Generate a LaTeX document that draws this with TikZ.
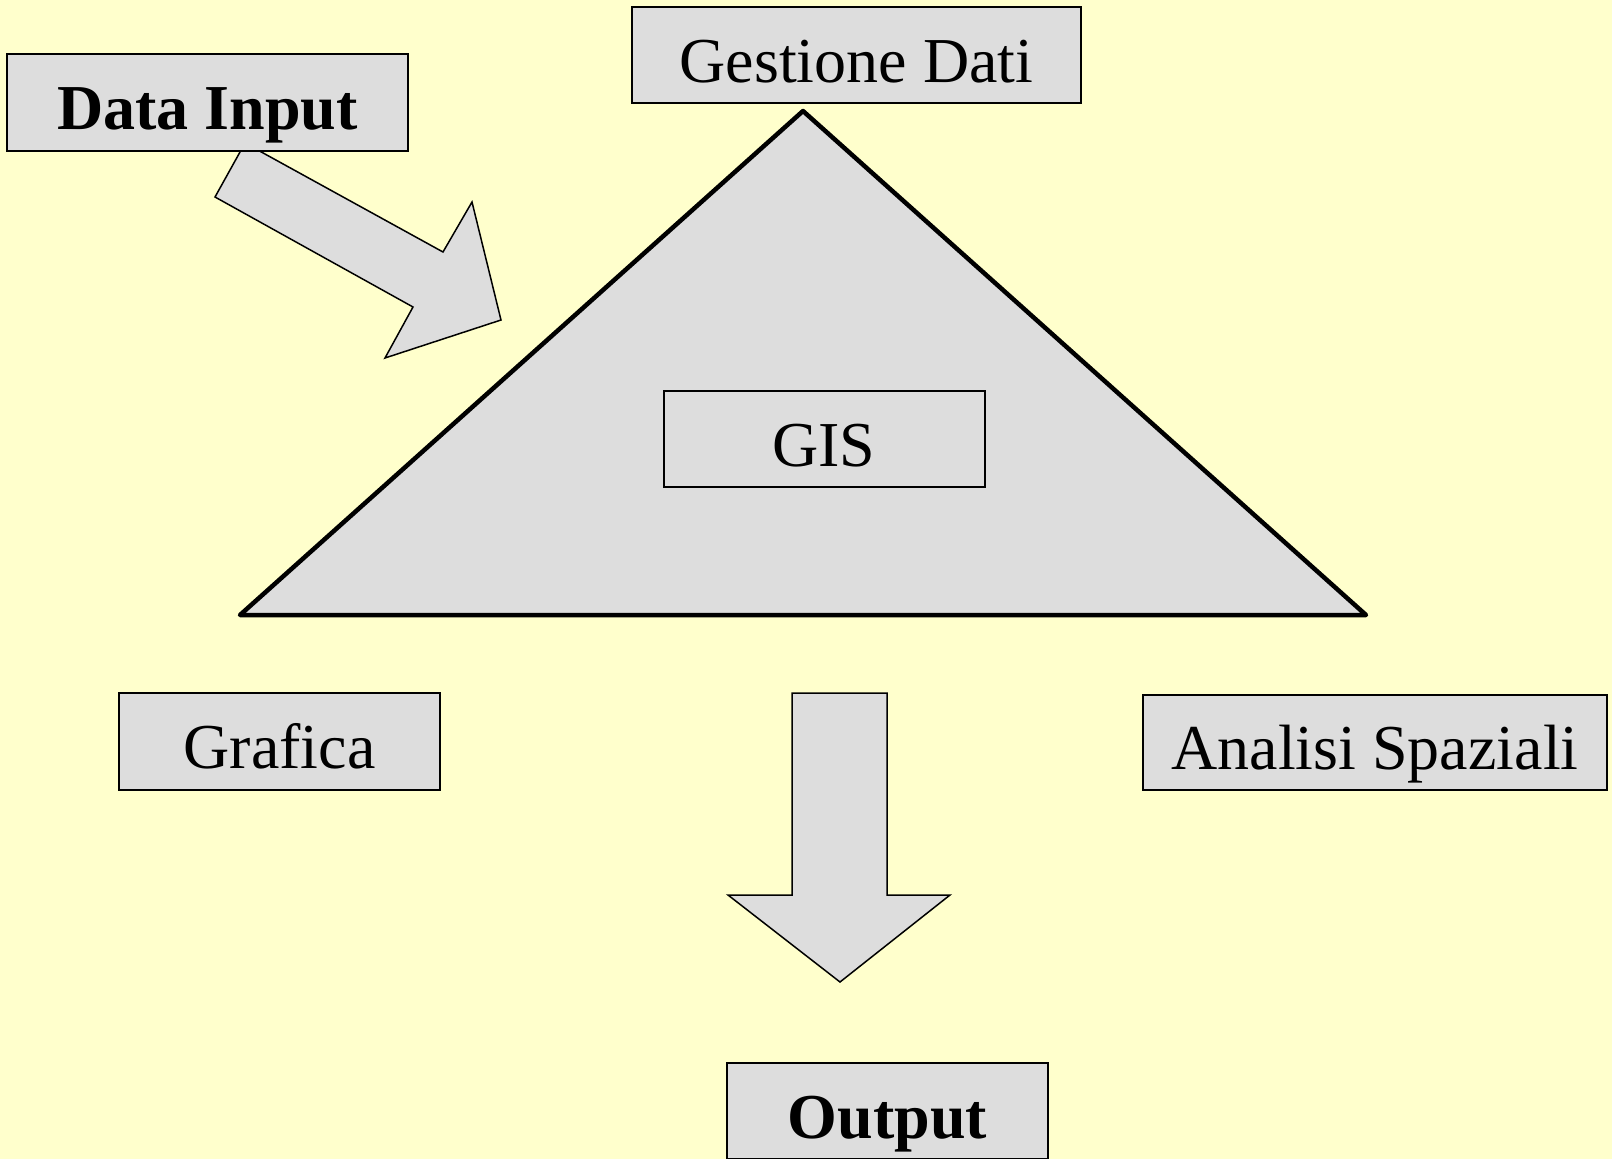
\documentclass[tikz,border=0pt]{standalone}
\usepackage{fontspec}
\setmainfont{Liberation Serif}
\definecolor{paper}{HTML}{FFFFCC}
\definecolor{panel}{HTML}{DDDDDD}
\begin{document}
\begin{tikzpicture}[x=1pt,y=-1pt,
  labelbox/.style={draw=black, line width=2pt, fill=panel, inner sep=0pt,
    text height=54pt, text depth=0pt,
    font=\fontsize{64}{77}\selectfont},
  blockarrow/.style={draw=black, line width=1.5pt, fill=panel, line join=miter},
  pyramid/.style={draw=black, line width=4.5pt, fill=panel, line join=round}]
  % page and background
  \useasboundingbox (0,0) rectangle (1612,1159);
  \fill[paper] (0,0) rectangle (1612,1159);

  % central triangle
  \coordinate (apex) at (803,111);
  \coordinate (baseL) at (240,615);
  \coordinate (baseR) at (1366,615);
  \draw[pyramid] (apex) -- (baseR) -- (baseL) -- cycle;

  % diagonal input arrow (tail sits under the Data Input box)
  \draw[blockarrow] (245,143) -- (443,252) -- (472,202) -- (501,320)
    -- (385,358) -- (413,307) -- (215,197) -- cycle;

  % downward output arrow
  \draw[blockarrow] (792,693) -- (887,693) -- (887,895) -- (950,895)
    -- (840,982) -- (728,895) -- (792,895) -- cycle;

  % labelled boxes
  \node[labelbox, minimum width=449pt, minimum height=96pt]
    (gestione) at (856.5,55) {Gestione Dati};
  \node[labelbox, minimum width=401pt, minimum height=97pt,
    font=\fontsize{64}{77}\selectfont\bfseries]
    (input) at (207.5,102.5) {Data Input};
  \node[labelbox, minimum width=321pt, minimum height=96pt]
    (gis) at (824,439) {GIS};
  \node[labelbox, minimum width=321pt, minimum height=97pt]
    (grafica) at (279.5,741.5) {Grafica};
  \node[labelbox, minimum width=464pt, minimum height=95pt]
    (analisi) at (1375,742.5) {Analisi Spaziali};
  \node[labelbox, minimum width=321pt, minimum height=96pt,
    font=\fontsize{64}{77}\selectfont\bfseries]
    (output) at (887.5,1111) {Output};
\end{tikzpicture}
\end{document}
